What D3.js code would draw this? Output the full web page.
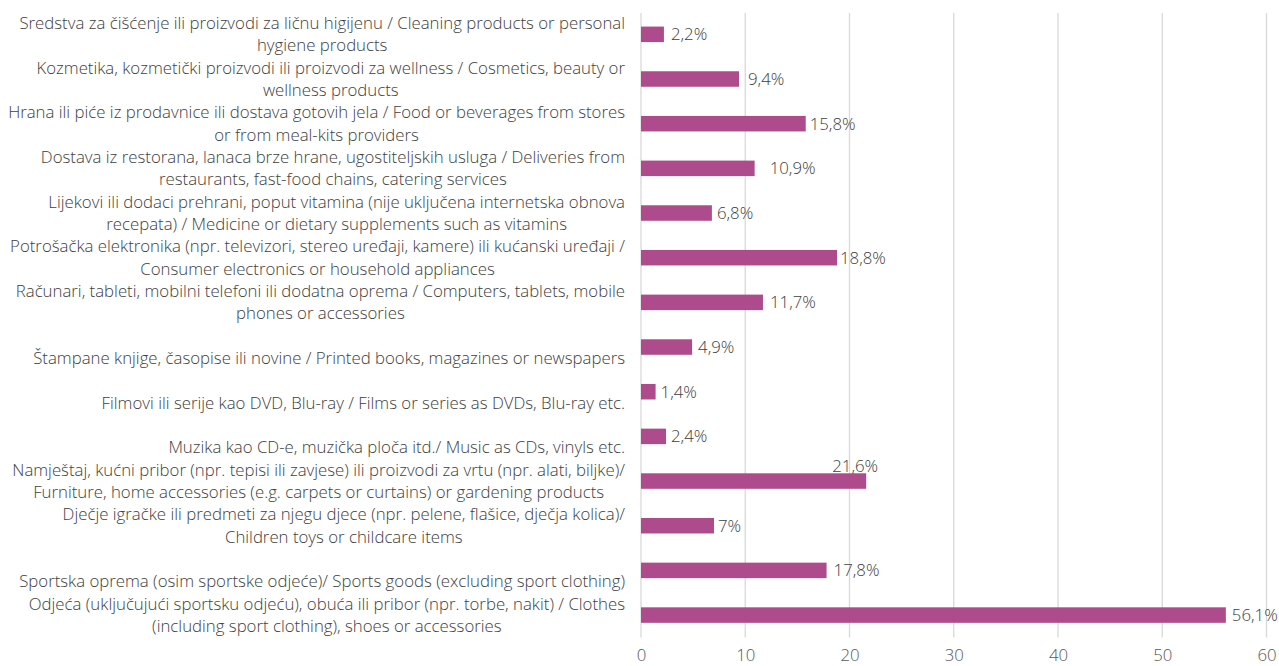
<!DOCTYPE html>
<html>
<head>
<meta charset="utf-8">
<script src="https://cdn.jsdelivr.net/npm/d3@7"></script>
<style>
  html, body { margin: 0; padding: 0; background: #ffffff; }
  svg { display: block; }
  text { font-family: "Open Sans", "Noto Sans", sans-serif; font-weight: 300; }
</style>
</head>
<body>
<svg id="chart" width="1279" height="666"></svg>
<script>
// ---- data ----
const categories = [
  "Sredstva za čišćenje ili proizvodi za ličnu higijenu  / Cleaning products or personal\nhygiene products",
  "Kozmetika, kozmetički proizvodi ili proizvodi za wellness / Cosmetics, beauty or\nwellness products",
  "Hrana ili piće iz prodavnice ili dostava gotovih jela / Food or beverages from stores\nor from meal-kits providers",
  "Dostava iz restorana, lanaca brze hrane, ugostiteljskih usluga / Deliveries from\nrestaurants, fast-food chains, catering services",
  "Lijekovi ili dodaci prehrani, poput vitamina (nije uključena internetska obnova\nrecepata) / Medicine or dietary supplements such as vitamins",
  "Potrošačka elektronika (npr. televizori, stereo uređaji, kamere) ili kućanski uređaji /\nConsumer electronics or household appliances",
  "Računari, tableti, mobilni telefoni ili dodatna oprema / Computers, tablets, mobile\nphones or accessories",
  "\nŠtampane knjige, časopise ili novine / Printed books, magazines or newspapers",
  "\nFilmovi ili serije kao DVD, Blu-ray / Films or series as DVDs, Blu-ray etc.",
  "\nMuzika kao  CD-e, muzička ploča itd./ Music as CDs, vinyls etc.",
  "Namještaj, kućni pribor (npr. tepisi ili zavjese) ili proizvodi za vrtu (npr. alati, biljke)/\nFurniture, home accessories (e.g. carpets or curtains) or gardening products",
  "Dječje igračke ili predmeti za njegu djece (npr. pelene, flašice, dječja kolica)/\nChildren toys or childcare items",
  "\nSportska oprema (osim sportske odjeće)/ Sports goods (excluding sport clothing)",
  "Odjeća (uključujući sportsku odjeću), obuća ili pribor (npr. torbe, nakit) / Clothes\n(including sport clothing), shoes or accessories"
];
const values = [2.2, 9.4, 15.8, 10.9, 6.8, 18.8, 11.7, 4.9, 1.4, 2.4, 21.6, 7.0, 17.8, 56.1];
const xTicks = [0, 10, 20, 30, 40, 50, 60];

// label nudges (style, not data)
const labelDx = [7, 9, 4, 15, 5, 3, 7, 6, 5, 5, -11, 4, 7, 6];
const labelDy = [0, 0, 0, 0, 0, 0, 0, 0, 0, 0, -15, 0, 0, 0];

(function () {
  const svg = d3.select("#chart");
  const mLeft = 641, mRight = 1266.5, mTop = 12, mBottom = 637.4;
  const barColor = "#ae4b8c";
  const fontSize = 16.8;

  const x = d3.scaleLinear().domain([0, 60]).range([mLeft, mRight]);
  const y = d3.scaleBand().domain(d3.range(categories.length))
    .range([mTop, mBottom]).paddingInner(0.653).paddingOuter(0.3265);

  // gridlines
  svg.append("g").selectAll("line").data(xTicks).join("line")
    .attr("x1", d => x(d)).attr("x2", d => x(d))
    .attr("y1", mTop + 1).attr("y2", mBottom)
    .attr("stroke", "#d9d9d9").attr("stroke-width", 1.3);

  // x axis
  const xAxis = svg.append("g").attr("transform", `translate(0,${mBottom})`)
    .call(d3.axisBottom(x).tickValues(xTicks).tickSize(0).tickPadding(11.5).tickFormat(d3.format("d")));
  xAxis.select(".domain").remove();
  xAxis.selectAll("text").attr("font-size", fontSize).attr("fill", "#595959")
    .attr("font-family", '"Open Sans", sans-serif').attr("font-weight", 300);

  // bars
  svg.append("g").selectAll("rect").data(values).join("rect")
    .attr("x", x(0)).attr("y", (d, i) => y(i))
    .attr("width", d => x(d) - x(0)).attr("height", y.bandwidth())
    .attr("fill", barColor);

  // value labels
  const fmt = v => (Number.isInteger(v) ? String(v) : String(v).replace(".", ",")) + "%";
  svg.append("g").selectAll("text").data(values).join("text")
    .attr("x", (d, i) => x(d) + labelDx[i])
    .attr("y", (d, i) => y(i) + y.bandwidth() / 2 + labelDy[i])
    .attr("dy", "0.35em")
    .attr("text-anchor", (d, i) => labelDy[i] !== 0 ? "middle" : "start")
    .attr("font-size", fontSize).attr("fill", "#404040")
    .text(d => fmt(d));

  // category labels: block right-aligned, lines centered within block
  const lineH = 22.3;
  const labelRight = 625;
  const lg = svg.append("g");
  categories.forEach((c, i) => {
    const lines = c.split("\n");
    const cy = y(i) + y.bandwidth() / 2;
    const t = lg.append("text").attr("font-size", fontSize).attr("fill", "#404040")
      .attr("text-anchor", "middle");
    const spans = lines.map((ln, k) => t.append("tspan")
      .attr("y", cy + (k - (lines.length - 1) / 2) * lineH)
      .attr("dy", "0.35em").text(ln));
    const w = d3.max(spans, s => s.node().getComputedTextLength());
    spans.forEach(s => s.attr("x", labelRight - w / 2));
  });
})();
</script>
</body>
</html>
